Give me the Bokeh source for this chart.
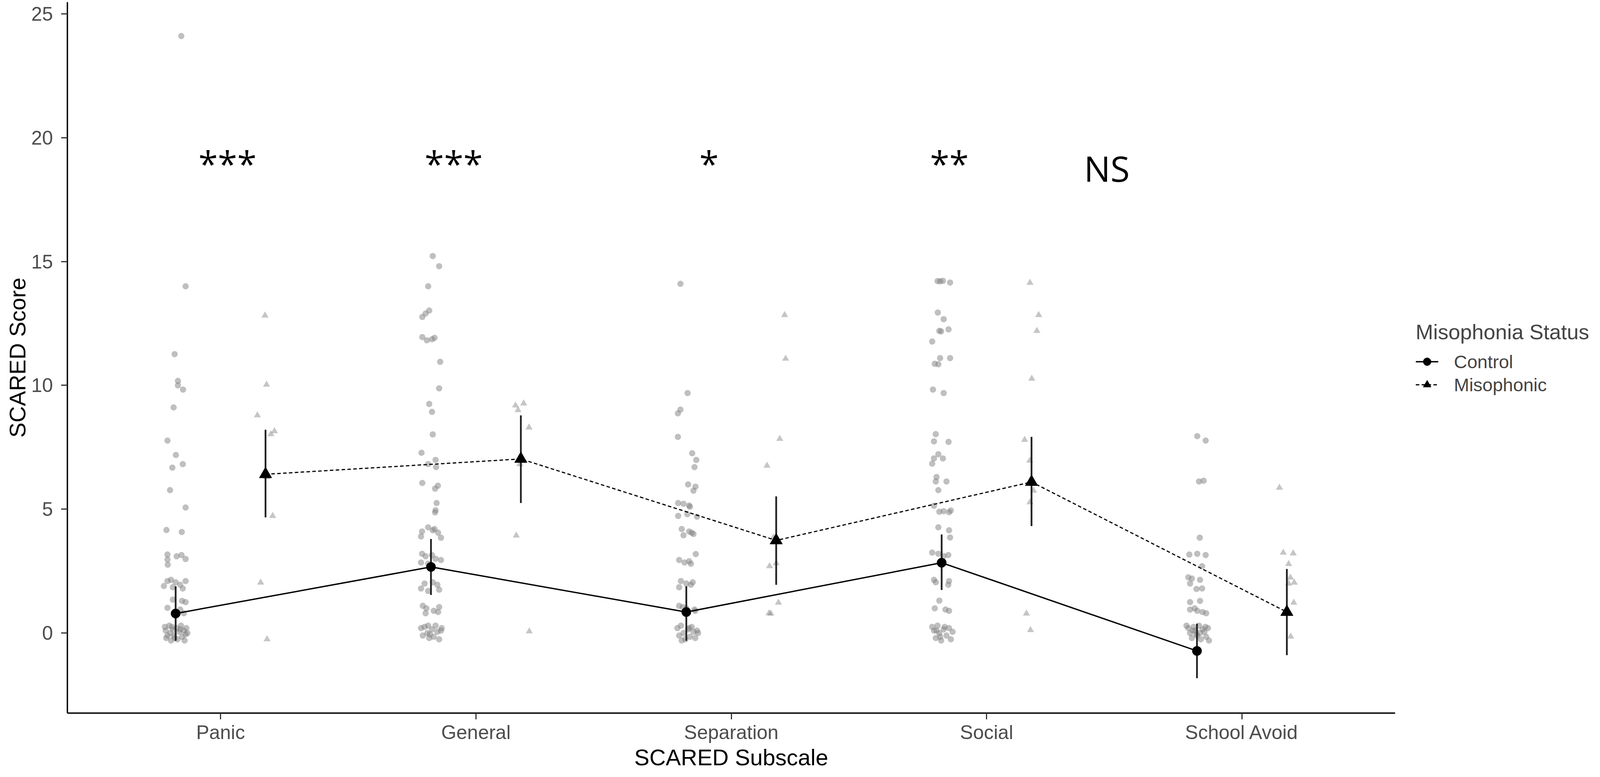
from bokeh.plotting import figure
from bokeh.models import ColumnDataSource, Range1d, FixedTicker, Legend, LegendItem
from bokeh.core.properties import value
from bokeh.embed import file_html
from bokeh.resources import INLINE

# ---------------- data ----------------
categories = ["Panic", "General", "Separation", "Social", "School Avoid"]

control_mean = [0.79, 2.67, 0.85, 2.84, -0.72]
control_lo = [-0.31, 1.54, -0.31, 1.74, -1.82]
control_hi = [1.89, 3.80, 1.89, 3.98, 0.38]

miso_mean = [6.41, 7.03, 3.74, 6.10, 0.85]
miso_lo = [4.67, 5.25, 1.95, 4.32, -0.89]
miso_hi = [8.21, 8.79, 5.52, 7.92, 2.59]

# individual (jittered) scores, with horizontal jitter in category units
panic_ctrl = [24.1, 14.0, 11.26, 10.18, 10.0, 9.83, 9.11, 7.77, 7.19, 6.82, 6.68, 5.77, 5.07, 4.16, 4.08,
              3.17, 3.1, 3.15, 2.99, 2.97, 2.76, 2.1, 2.15, 2.05, 1.95, 2.1, 1.85, 1.8, 1.9,
              1.35, 1.3, 1.25, 1.02, 0.95, 0.8,
              0.25, 0.1, -0.2, 0.3, 0.0, -0.3, 0.15, -0.1, 0.2, -0.25, 0.05, 0.3, -0.15, 0.1, -0.3,
              0.2, 0.0, -0.1, 0.15, -0.2, 0.25, -0.05]
panic_ctrl_jit = [0.022, 0.039, -0.004, 0.009, 0.009, 0.029, -0.008, -0.032, 0.001, 0.028, -0.013, -0.022, 0.039,
                  -0.036, 0.024, -0.032, 0.004, 0.023, 0.039, -0.032, -0.031, -0.032, -0.018, 0.0, 0.018, 0.039,
                  -0.011, 0.028, -0.046, -0.011, 0.025, 0.039, -0.032, 0.018, 0.032,
                  -0.042, -0.039, -0.037, -0.025, -0.021, -0.018, -0.011, -0.007, 0.004, 0.007, 0.014, 0.021,
                  0.025, 0.032, 0.035, 0.042, 0.046, -0.032, 0.018, -0.004, -0.014, 0.039]
panic_miso = [12.82, 10.03, 8.79, 8.15, 8.03, 6.3, 4.73, 2.04, -0.25]
panic_miso_jit = [-0.002, 0.004, -0.032, 0.035, 0.021, 0.004, 0.028, -0.019, 0.006]

general_ctrl = [15.22, 14.81, 14.0, 13.02, 12.9, 12.76, 11.95, 11.86, 11.92, 11.82, 10.95, 9.88, 9.25, 8.93,
                8.02, 7.28, 6.99, 6.82, 6.70, 6.06, 5.95, 5.83, 5.25, 4.96, 4.87,
                4.27, 4.15, 4.1, 4.05, 3.85, 3.9, 4.2, 3.2, 3.1, 3.0, 2.95, 2.85, 2.8, 3.15,
                2.0, 1.95, 1.8, 1.7, 1.75, 2.05, 1.1, 1.0, 0.9, 0.85, 1.05, 0.8,
                0.2, -0.1, 0.25, 0.0, -0.2, 0.15, -0.15, 0.3, 0.05, -0.25, 0.1, 0.2, -0.05, 0.3]
general_ctrl_jit = [0.007, 0.032, -0.011, -0.007, -0.021, -0.034, -0.034, 0.004, 0.014, -0.016, 0.036, 0.032,
                    -0.007, 0.004, 0.007, -0.037, 0.018, -0.011, 0.020, -0.034, 0.027, 0.016, 0.022, 0.018, 0.016,
                    -0.011, 0.007, -0.035, 0.028, 0.039, -0.039, 0.014, -0.035, -0.021, 0.018, 0.039, -0.039,
                    -0.011, 0.004, -0.025, 0.025, -0.039, -0.011, 0.032, 0.007, -0.032, -0.018, 0.011, 0.028,
                    0.032, -0.021, -0.039, -0.032, -0.025, -0.014, -0.007, 0.004, 0.011, 0.018, 0.025, 0.032,
                    0.039, 0.042, -0.004, -0.011]
general_miso = [9.19, 9.27, 9.0, 8.3, 6.82, 3.94, 0.07]
general_miso_jit = [-0.021, 0.011, -0.011, 0.032, -0.004, -0.018, 0.033]

separation_ctrl = [14.1, 9.69, 9.02, 8.87, 7.92, 7.26, 6.99, 6.70, 6.0, 5.91, 5.75, 5.25, 5.22, 5.15, 5.1,
                   4.73, 4.8, 4.7, 4.2, 4.1, 4.0, 3.95, 4.05, 3.19, 2.95, 2.85, 2.9, 2.8,
                   2.1, 2.0, 1.95, 1.85, 2.05, 1.1, 1.0, 0.95, 0.9, 1.05,
                   0.2, -0.1, 0.3, 0.0, -0.25, 0.15, -0.15, 0.25, 0.05, -0.2, 0.1, -0.3, 0.2, 0.0]
separation_ctrl_jit = [-0.023, 0.005, -0.023, -0.033, -0.033, 0.023, 0.039, 0.032, 0.007, 0.036, 0.028, -0.032,
                       -0.011, 0.011, 0.014, -0.032, 0.004, 0.042, -0.018, 0.011, 0.028, -0.011, 0.021, 0.037,
                       -0.028, -0.007, 0.011, 0.018, -0.021, 0.0, 0.018, -0.028, 0.025, -0.028, 0.0, 0.032,
                       0.035, -0.014, -0.035, -0.028, -0.021, -0.011, -0.004, 0.007, 0.014, 0.021, 0.028,
                       0.035, 0.042, -0.018, 0.011, 0.046]
separation_miso = [12.84, 11.08, 7.84, 6.76, 3.86, 2.82, 2.7, 1.23, 0.79, 0.8]
separation_miso_jit = [0.033, 0.037, 0.014, -0.036, -0.011, 0.0, -0.026, 0.009, -0.021, -0.028]

social_ctrl = [14.21, 14.2, 14.22, 14.15, 12.94, 12.67, 12.26, 12.2, 12.18, 11.77, 11.1, 11.1, 10.87, 10.85,
               9.83, 9.69, 8.03, 7.74, 7.72, 7.22, 7.05, 7.05, 6.84, 6.3, 6.12, 6.12, 5.77, 5.14,
               4.9, 4.92, 4.88, 4.95, 4.27, 4.15, 3.86, 3.25, 3.2, 3.15, 3.1,
               2.15, 2.05, 2.1, 1.95, 1.31, 1.0, 0.95, 0.9,
               0.25, 0.1, -0.2, 0.3, 0.0, -0.3, 0.15, -0.1, 0.2, -0.25, 0.05, 0.1, -0.15, 0.25]
social_ctrl_jit = [-0.016, -0.006, 0.005, 0.033, -0.015, 0.008, 0.027, -0.009, -0.002, -0.037, -0.006, 0.033,
                   -0.027, -0.013, -0.034, 0.008, -0.023, -0.030, 0.027, -0.013, -0.030, 0.005, -0.037, -0.020,
                   -0.023, 0.019, -0.013, -0.030, -0.009, 0.008, 0.029, 0.036, -0.013, 0.029, 0.033, -0.037,
                   -0.013, 0.026, 0.008, -0.030, -0.023, 0.029, 0.026, -0.009, -0.027, 0.015, 0.029,
                   -0.037, -0.030, -0.023, -0.016, -0.009, -0.002, 0.008, 0.019, 0.029, 0.036, 0.043, -0.020,
                   -0.006, 0.012]
social_miso = [14.14, 12.84, 12.2, 10.27, 7.8, 6.96, 5.75, 5.28, 0.79, 0.12]
social_miso_jit = [-0.006, 0.028, 0.021, 0.001, -0.027, -0.007, 0.008, -0.006, -0.020, -0.004]

school_ctrl = [7.95, 7.77, 6.12, 6.15, 3.85, 3.17, 3.2, 3.15, 2.7, 2.25, 2.2, 2.15, 2.0, 1.78, 1.8, 1.25, 1.3,
               0.95, 0.9, 0.85, 0.8, 1.0,
               0.3, 0.2, 0.0, -0.2, 0.25, 0.1, -0.1, 0.3, -0.25, 0.15, 0.05, -0.15, 0.2, -0.3, 0.1, 0.0,
               0.25, -0.05]
school_ctrl_jit = [0.001, 0.034, 0.008, 0.026, 0.011, -0.030, 0.001, 0.034, 0.020, -0.034, -0.020, 0.012,
                   -0.027, -0.002, 0.020, -0.027, 0.012, -0.027, 0.001, 0.022, 0.036, -0.009,
                   -0.041, -0.034, -0.027, -0.020, -0.013, -0.006, 0.001, 0.008, 0.015, 0.022, 0.029, 0.036,
                   0.043, 0.047, -0.016, 0.012, 0.033, -0.002]
school_miso = [5.87, 3.25, 3.22, 2.79, 2.24, 2.04, 2.0, 1.23, -0.14]
school_miso_jit = [-0.029, -0.014, 0.025, 0.007, 0.014, 0.029, 0.007, 0.027, 0.015]

sig_labels = ["***", "***", "*", "**", "NS"]
sig_x = [1.027, 1.913, 2.913, 3.854, 4.471]
sig_y = [18.98, 18.98, 18.98, 18.98, 18.77]

# ---------------- assemble ----------------
DODGE = 0.176
ctrl_sets = [(panic_ctrl, panic_ctrl_jit), (general_ctrl, general_ctrl_jit), (separation_ctrl, separation_ctrl_jit),
             (social_ctrl, social_ctrl_jit), (school_ctrl, school_ctrl_jit)]
miso_sets = [(panic_miso, panic_miso_jit), (general_miso, general_miso_jit), (separation_miso, separation_miso_jit),
             (social_miso, social_miso_jit), (school_miso, school_miso_jit)]

cx, cy, mx, my = [], [], [], []
for i, (vals, jit) in enumerate(ctrl_sets):
    for v, j in zip(vals, jit):
        cx.append(i + 1 - DODGE + j)
        cy.append(v)
for i, (vals, jit) in enumerate(miso_sets):
    for v, j in zip(vals, jit):
        mx.append(i + 1 + DODGE + j)
        my.append(v)

pos = list(range(1, len(categories) + 1))
ctrl_x = [p_ - DODGE for p_ in pos]
miso_x = [p_ + DODGE for p_ in pos]

FONT = "Liberation Sans"

p = figure(width=4534, height=1972, x_range=Range1d(0.4, 5.6), y_range=Range1d(-3.23, 25.47),
           output_backend="svg", toolbar_location=None,
           min_border_left=172, min_border_right=581, min_border_top=5, min_border_bottom=136)
p.outline_line_color = None
p.xgrid.visible = False
p.ygrid.visible = False
p.background_fill_color = "white"
p.border_fill_color = "white"

# jittered individual points
p.scatter(x=cx, y=cy, marker="circle", size=16, fill_color="#7F7F7F", fill_alpha=0.5, line_color=None)
p.scatter(x=mx, y=my, marker="triangle", size=18, fill_color="#7F7F7F", fill_alpha=0.45, line_color=None)

# connecting lines
ctrl_line = p.line(x=ctrl_x, y=control_mean, line_color="black", line_width=3.5)
miso_line = p.line(x=miso_x, y=miso_mean, line_color="black", line_width=3.0, line_dash="9 6")

# error bars
p.segment(x0=ctrl_x, y0=control_lo, x1=ctrl_x, y1=control_hi, line_color="#222222", line_width=4.5)
p.segment(x0=miso_x, y0=miso_lo, x1=miso_x, y1=miso_hi, line_color="#222222", line_width=4.5)

# means
ctrl_pts = p.scatter(x=ctrl_x, y=control_mean, marker="circle", size=24, fill_color="black", line_color="black")
miso_pts = p.scatter(x=miso_x, y=miso_mean, marker="triangle", size=32, fill_color="black", line_color="black")

# significance annotations
p.text(x=sig_x, y=sig_y, text=sig_labels, text_font=value("Open Sans"), text_font_size="90px",
       text_align="center", text_baseline="alphabetic", text_color="black")

# axes
p.xaxis.ticker = FixedTicker(ticks=pos)
p.xaxis.major_label_overrides = {p_: c for p_, c in zip(pos, categories)}
p.yaxis.ticker = FixedTicker(ticks=[0, 5, 10, 15, 20, 25])
p.xaxis.axis_label = "SCARED Subscale"
p.yaxis.axis_label = "SCARED Score"
for ax in (p.xaxis, p.yaxis):
    ax.axis_line_color = "black"
    ax.axis_line_width = 3.5
    ax.major_tick_line_color = "#333333"
    ax.major_tick_line_width = 3
    ax.major_tick_out = 16
    ax.major_tick_in = 0
    ax.minor_tick_line_color = None
    ax.major_label_text_font = FONT
    ax.major_label_text_font_size = "50px"
    ax.major_label_text_color = "#4D4D4D"
    ax.axis_label_text_font = FONT
    ax.axis_label_text_font_size = "58px"
    ax.axis_label_text_font_style = "normal"
    ax.axis_label_text_color = "black"
p.xaxis.major_label_standoff = 5
p.xaxis.axis_label_standoff = 0
p.yaxis.major_label_standoff = 21
p.yaxis.axis_label_standoff = 0

# legend (right side panel); label_width fixes the panel width
legend = Legend(items=[LegendItem(label="Control", renderers=[ctrl_line, ctrl_pts]),
                       LegendItem(label="Misophonic", renderers=[miso_line, miso_pts])],
                title="Misophonia Status", location="center_left")
legend.title_text_font = FONT
legend.title_text_font_size = "54px"
legend.title_text_font_style = "normal"
legend.title_standoff = 18
legend.label_text_font = FONT
legend.label_text_font_size = "47px"
legend.glyph_width = 58
legend.glyph_height = 50
legend.label_standoff = 40
legend.label_width = 317
legend.spacing = 4
legend.padding = 10
legend.margin = 53
legend.border_line_color = None
legend.background_fill_alpha = 0
p.add_layout(legend, "right")

open("out.html", "w").write(file_html(p, INLINE))
